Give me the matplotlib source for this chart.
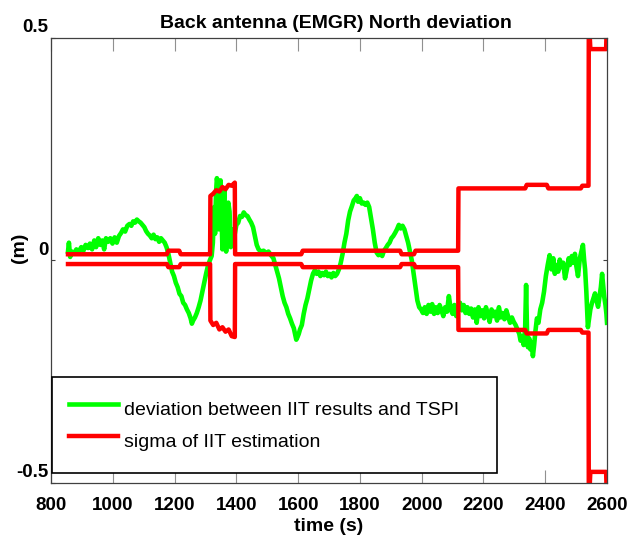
import matplotlib
matplotlib.use('Agg')
import matplotlib.pyplot as plt
import matplotlib.transforms as mtransforms

plt.rcParams['font.family'] = ['Liberation Sans', 'DejaVu Sans']

# IIT minus TSPI north deviation (m) against time (s)
dev_t = [855, 858, 862, 868, 875, 882, 890, 898, 905, 912, 920, 926, 933, 940, 946, 953,
         960, 966, 972, 978, 985, 992, 999, 1006, 1013, 1020, 1027, 1033, 1040, 1047, 1054,
         1060, 1066, 1072, 1078, 1084, 1090, 1096, 1102, 1108, 1114, 1120, 1126, 1132, 1138,
         1144, 1150, 1156, 1162, 1168, 1174, 1180, 1186, 1192, 1198, 1204, 1210, 1216, 1222,
         1228, 1234, 1240, 1246, 1252, 1256, 1260, 1266, 1272, 1278, 1284, 1290, 1296, 1302,
         1308, 1314, 1320, 1324, 1328, 1331, 1334, 1337, 1340, 1343, 1346, 1349, 1352, 1355,
         1358, 1361, 1364, 1367, 1370, 1374, 1378, 1382, 1386, 1390, 1395, 1400, 1406, 1412,
         1418, 1424, 1430, 1436, 1442, 1448, 1454, 1460, 1466, 1472, 1480, 1488, 1496, 1504,
         1512, 1520, 1526, 1532, 1538, 1544, 1550, 1556, 1562, 1568, 1574, 1580, 1586, 1590,
         1594, 1598, 1602, 1606, 1612, 1618, 1624, 1630, 1636, 1642, 1648, 1654, 1660, 1666,
         1672, 1678, 1684, 1690, 1696, 1702, 1708, 1714, 1720, 1726, 1732, 1738, 1744, 1750,
         1756, 1762, 1768, 1774, 1780, 1786, 1790, 1794, 1800, 1806, 1812, 1818, 1824, 1830,
         1836, 1842, 1848, 1854, 1860, 1866, 1872, 1878, 1884, 1890, 1896, 1902, 1908, 1914,
         1920, 1926, 1932, 1938, 1944, 1950, 1956, 1962, 1968, 1974, 1980, 1986, 1992, 1998,
         2004, 2010, 2016, 2022, 2028, 2034, 2040, 2046, 2052, 2058, 2064, 2070, 2076, 2082,
         2088, 2094, 2100, 2106, 2112, 2118, 2124, 2130, 2136, 2142, 2148, 2154, 2160, 2166,
         2172, 2178, 2184, 2190, 2196, 2202, 2208, 2214, 2220, 2226, 2232, 2238, 2244, 2250,
         2256, 2262, 2268, 2274, 2280, 2286, 2292, 2298, 2304, 2310, 2316, 2320, 2325, 2330,
         2335, 2338, 2341, 2344, 2348, 2352, 2356, 2360, 2364, 2368, 2373, 2378, 2384, 2390,
         2396, 2402, 2408, 2414, 2420, 2426, 2431, 2436, 2442, 2447, 2452, 2458, 2464, 2470,
         2476, 2480, 2486, 2492, 2496, 2500, 2506, 2512, 2517, 2522, 2526, 2529, 2533, 2536,
         2538, 2542, 2546, 2551, 2556, 2561, 2566, 2571, 2576, 2580, 2584, 2588, 2591, 2595,
         2598, 2600]
dev_v = [0.02, 0.04, 0.008, 0.02, 0.015, 0.025, 0.02, 0.03, 0.022, 0.035, 0.028, 0.038, 0.025,
         0.045, 0.03, 0.05, 0.035, 0.045, 0.025, 0.05, 0.042, 0.05, 0.038, 0.052, 0.04, 0.055,
         0.062, 0.07, 0.065, 0.078, 0.082, 0.078, 0.088, 0.085, 0.092, 0.088, 0.085, 0.08, 0.075,
         0.066, 0.06, 0.056, 0.05, 0.058, 0.048, 0.052, 0.042, 0.05, 0.045, 0.04, 0.03, 0.015,
         -0.005, -0.025, -0.035, -0.05, -0.06, -0.075, -0.08, -0.095, -0.1, -0.11, -0.118, -0.13,
         -0.142, -0.135, -0.128, -0.118, -0.105, -0.09, -0.07, -0.05, -0.03, -0.012, 0.0, 0.01,
         0.04, 0.12, 0.06, 0.15, 0.185, 0.17, 0.07, 0.16, 0.18, 0.1, 0.025, 0.12, 0.16, 0.09,
         0.02, 0.1, 0.13, 0.11, 0.03, 0.07, 0.04, 0.06, 0.08, 0.085, 0.1, 0.098, 0.108, 0.102,
         0.1, 0.092, 0.085, 0.075, 0.055, 0.035, 0.025, 0.02, 0.022, 0.017, 0.02, 0.012, 0.005,
         -0.01, -0.025, -0.04, -0.06, -0.08, -0.095, -0.105, -0.12, -0.13, -0.142, -0.152,
         -0.165, -0.178, -0.172, -0.165, -0.155, -0.145, -0.12, -0.1, -0.085, -0.065, -0.045,
         -0.03, -0.022, -0.03, -0.025, -0.035, -0.028, -0.033, -0.025, -0.035, -0.03, -0.038,
         -0.028, -0.035, -0.03, -0.02, -0.005, 0.015, 0.04, 0.06, 0.09, 0.11, 0.122, 0.135,
         0.14, 0.145, 0.132, 0.14, 0.128, 0.13, 0.125, 0.13, 0.12, 0.095, 0.07, 0.04, 0.018,
         0.012, 0.02, 0.01, 0.022, 0.028, 0.035, 0.04, 0.05, 0.055, 0.062, 0.07, 0.08, 0.072,
         0.078, 0.07, 0.055, 0.04, 0.02, 0.0, -0.03, -0.06, -0.09, -0.105, -0.11, -0.118, -0.105,
         -0.12, -0.1, -0.115, -0.098, -0.12, -0.105, -0.118, -0.1, -0.112, -0.125, -0.105,
         -0.115, -0.08, -0.11, -0.12, -0.1, -0.125, -0.108, -0.095, -0.112, -0.1, -0.118, -0.105,
         -0.12, -0.108, -0.128, -0.11, -0.14, -0.105, -0.125, -0.112, -0.13, -0.105, -0.12,
         -0.138, -0.11, -0.125, -0.115, -0.135, -0.105, -0.128, -0.118, -0.132, -0.112, -0.126,
         -0.14, -0.128, -0.138, -0.145, -0.155, -0.165, -0.18, -0.17, -0.19, -0.15, -0.055,
         -0.16, -0.195, -0.175, -0.2, -0.185, -0.215, -0.19, -0.16, -0.13, -0.14, -0.11, -0.095,
         -0.07, -0.035, -0.01, 0.012, -0.02, 0.005, -0.03, -0.01, -0.025, 0.002, -0.015, -0.005,
         -0.04, -0.02, 0.005, -0.01, 0.01, -0.005, 0.015, -0.01, -0.035, 0.005, 0.02, 0.035,
         0.0, -0.02, -0.07, -0.12, -0.15, -0.13, -0.11, -0.096, -0.085, -0.074, -0.09, -0.104,
         -0.08, -0.06, -0.03, -0.06, -0.082, -0.1, -0.12, -0.14]

# sigma envelope of the IIT estimation
sig_t = [855, 1175, 1180, 1215, 1220, 1315, 1316, 1325, 1335, 1345, 1355, 1365, 1375, 1385,
         1395, 1396, 1610, 1615, 1930, 1935, 1975, 1980, 2118, 2119, 2335, 2340, 2405, 2410,
         2515, 2520, 2540, 2541, 2546, 2597, 2600]
sig_up = [0.014, 0.014, 0.022, 0.022, 0.014, 0.014, 0.145, 0.15, 0.158, 0.155, 0.165, 0.16,
          0.17, 0.168, 0.175, 0.014, 0.014, 0.022, 0.022, 0.014, 0.014, 0.022, 0.022, 0.162,
          0.162, 0.17, 0.17, 0.162, 0.162, 0.168, 0.168, 0.55, 0.475, 0.475, 0.55]
sig_lo = [-0.008, -0.008, -0.015, -0.015, -0.008, -0.008, -0.135, -0.145, -0.14, -0.155,
          -0.15, -0.16, -0.155, -0.17, -0.172, -0.008, -0.008, -0.015, -0.015, -0.008, -0.008,
          -0.015, -0.015, -0.156, -0.156, -0.164, -0.164, -0.156, -0.156, -0.162, -0.162,
          -0.55, -0.475, -0.475, -0.55]

xticks = [800, 1000, 1200, 1400, 1600, 1800, 2000, 2200, 2400, 2600]
yticks = [-0.5, 0, 0.5]

fig = plt.figure(figsize=(6.44, 5.35), dpi=100)
ax = fig.add_axes([0.0792, 0.0972, 0.8634, 0.8318])

ax.plot(dev_t, dev_v, color='#00ff00', lw=3.3, label='deviation between IIT results and TSPI')
ax.plot(sig_t, sig_up, color='#ff0000', lw=3.2, label='sigma of IIT estimation')
ax.plot(sig_t, sig_lo, color='#ff0000', lw=3.2)

ax.set_xlim(800, 2600)
ax.set_ylim(-0.5, 0.5)
ax.set_xticks(xticks)
ax.set_xticklabels([str(v) for v in xticks])
ax.set_yticks(yticks)
ax.set_yticklabels(['-0.5', '0', '0.5'])

for s in ax.spines.values():
    s.set_color('#404040')
    s.set_linewidth(0.9)

ax.tick_params(axis='x', direction='in', top=True, length=9.5, width=0.8, color='#909090',
               pad=10, labelsize=13.5)
ax.tick_params(axis='y', direction='in', right=True, length=3, width=0.8, color='#404040',
               pad=2, labelsize=13.5)
for lab in ax.get_xticklabels() + ax.get_yticklabels():
    lab.set_fontweight('bold')

# y tick labels sit a little above their ticks
shift = mtransforms.ScaledTranslation(0, 0.12, fig.dpi_scale_trans)
for lab in ax.get_yticklabels():
    lab.set_transform(lab.get_transform() + shift)

ax.set_title('Back antenna (EMGR) North deviation', fontsize=14, fontweight='bold',
             pad=7, x=0.513)
ax.set_xlabel('time (s)', fontsize=14, fontweight='bold', labelpad=3)
ax.set_ylabel('(m)', fontsize=14, fontweight='bold')
ax.yaxis.set_label_coords(-0.041, 0.528)

leg = ax.legend(loc='lower left', bbox_to_anchor=(0.002, 0.022, 0.8, 0.214), mode='expand',
                fontsize=14, frameon=True, fancybox=False, edgecolor='black',
                borderpad=0.85, handleheight=2.1, labelspacing=0.05, handlelength=2.55,
                handletextpad=0.3, borderaxespad=0)
leg.get_frame().set_linewidth(1.2)
leg.get_frame().set_alpha(1)

fig.savefig('out.png', dpi=100)
